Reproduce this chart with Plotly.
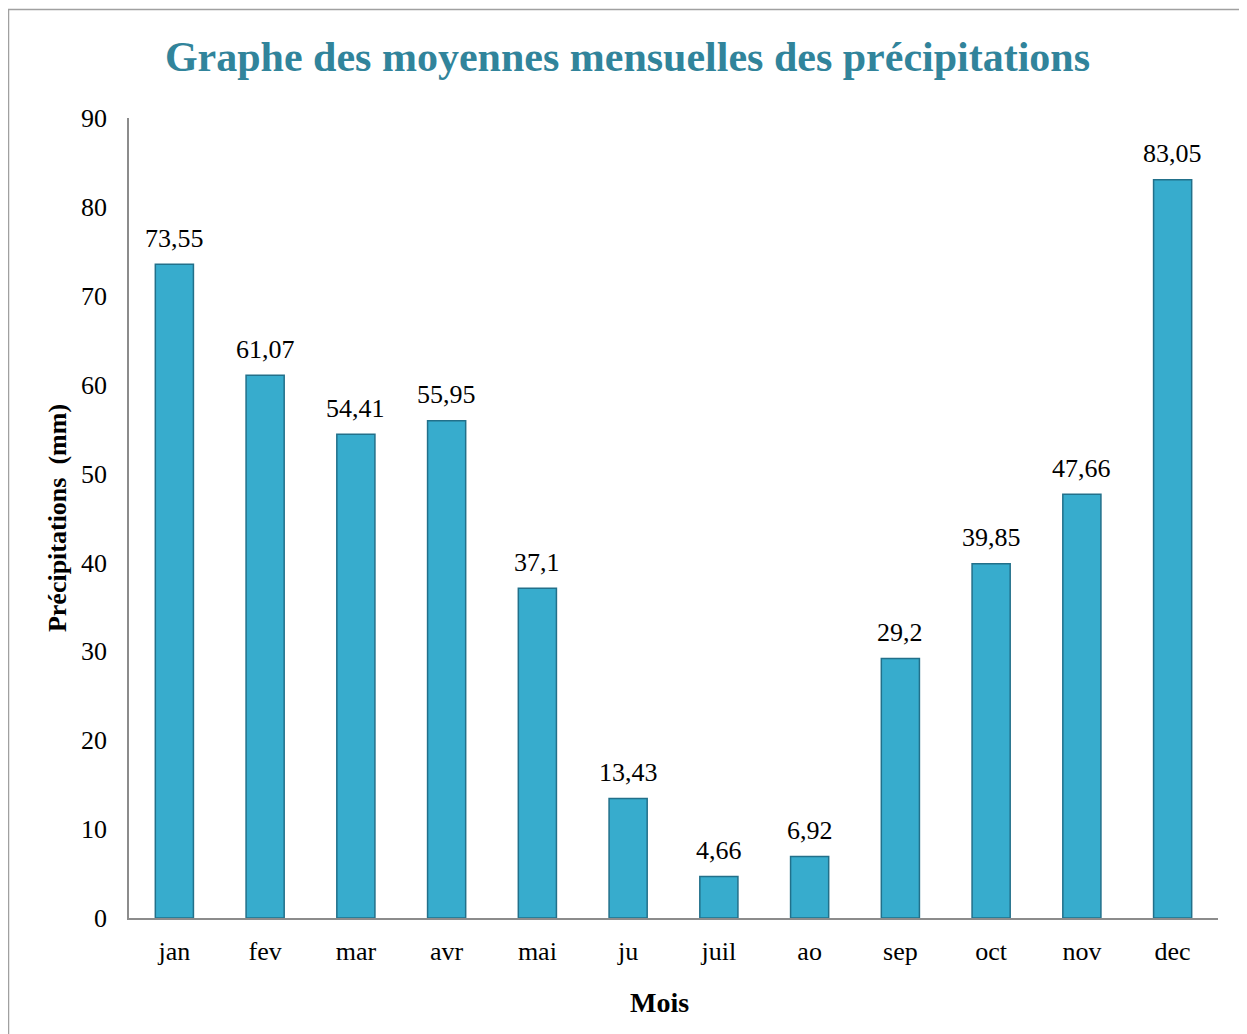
import plotly.graph_objects as go

months = ["jan", "fev", "mar", "avr", "mai", "ju", "juil", "ao", "sep", "oct", "nov", "dec"]
precip = [73.55, 61.07, 54.41, 55.95, 37.1, 13.43, 4.66, 6.92, 29.2, 39.85, 47.66, 83.05]
labels = [f"{v:g}".replace(".", ",") for v in precip]
y_ticks = list(range(0, 91, 10))

W, H = 1239, 1026
L, R, T, B = 121, 29, 110, 116
pw, ph = W - L - R, H - T - B

def px(x):
    return (x - L) / pw

def py(y):
    return (H - B - y) / ph

FONT = "Liberation Serif"

fig = go.Figure()
fig.add_trace(go.Bar(
    x=months, y=precip,
    marker=dict(color="#37ACCD", line=dict(color="#22708A", width=1.5)),
    cliponaxis=False,
))

for m, v, t in zip(months, precip, labels):
    fig.add_annotation(x=m, y=v, text=t, showarrow=False, yanchor="middle",
                       yshift=26, font=dict(family=FONT, size=26, color="black"))

fig.add_annotation(xref="paper", yref="paper", x=px(651), y=py(994), text="<b>Mois</b>",
                   showarrow=False, xanchor="center", yanchor="middle",
                   font=dict(family=FONT, size=28, color="black"))

fig.update_layout(
    width=W, height=H,
    margin=dict(l=L, r=R, t=T, b=B),
    paper_bgcolor="white", plot_bgcolor="white",
    bargap=0.58,
    showlegend=False,
    font=dict(family=FONT, color="black"),
    title=dict(text="<b>Graphe des moyennes mensuelles des précipitations</b>",
               font=dict(family=FONT, size=42, color="#31849B"),
               x=0.5, xanchor="center", y=1 - 48 / H, yanchor="middle"),
    xaxis=dict(showline=True, linecolor="#8C8C8C", linewidth=1.5,
               ticks="outside", ticklen=9, tickcolor="rgba(0,0,0,0)",
               tickfont=dict(family=FONT, size=26), showgrid=False),
    yaxis=dict(range=[0, 90], tickvals=y_ticks, showline=True, linecolor="#8C8C8C",
               linewidth=1.5, ticks="outside", ticklen=15, tickcolor="rgba(0,0,0,0)",
               showgrid=False, zeroline=False,
               tickfont=dict(family=FONT, size=26),
               title=dict(text="<b>Précipitations  (mm)</b>", font=dict(family=FONT, size=26), standoff=7)),
)

fig.add_shape(type="rect", xref="paper", yref="paper",
              x0=px(0.5), x1=px(1237.5), y0=py(1040), y1=py(1.5),
              line=dict(color="#A0A0A0", width=1.5), fillcolor="rgba(0,0,0,0)", layer="below")

fig.write_html("out.html")
